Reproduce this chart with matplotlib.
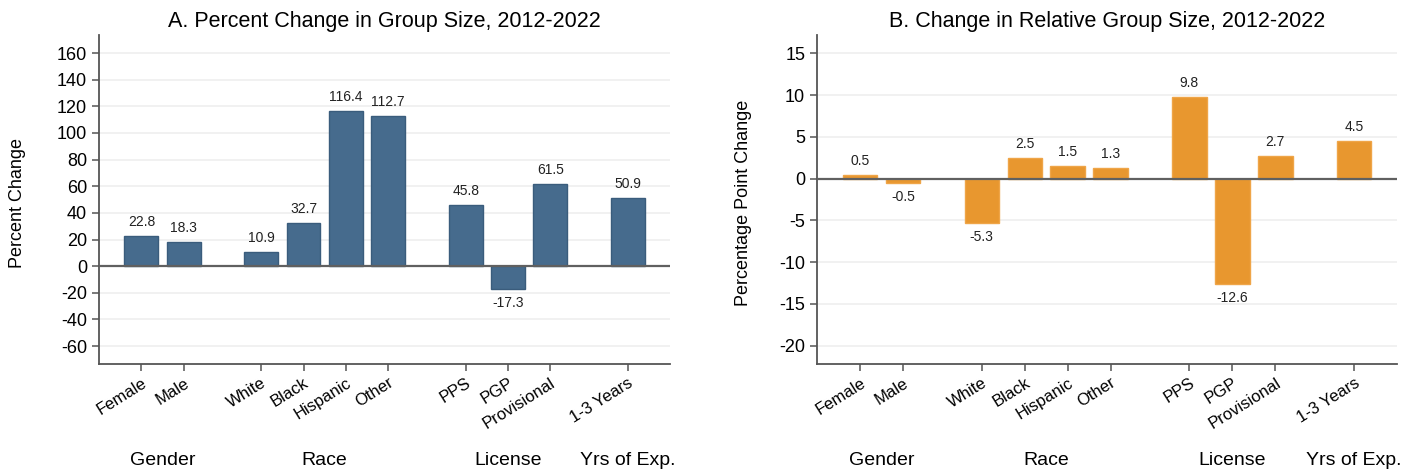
import numpy as np
import matplotlib
matplotlib.use("Agg")
import matplotlib.pyplot as plt
import matplotlib.transforms as mtransforms

plt.rcParams['font.family'] = ['Liberation Sans', 'DejaVu Sans']

categories = ['Female', 'Male', 'White', 'Black', 'Hispanic', 'Other',
              'PPS', 'PGP', 'Provisional', '1-3 Years']
groups = ['Gender', 'Race', 'License', 'Yrs of Exp.']
group_sizes = [2, 4, 3, 1]

pct_change = [22.8, 18.3, 10.9, 32.7, 116.4, 112.7, 45.8, -17.3, 61.5, 50.9]
pp_change = [0.5, -0.5, -5.3, 2.5, 1.5, 1.3, 9.8, -12.6, 2.7, 4.5]

# bar positions: unit spacing inside a group, wider step between groups
GROUP_STEP = 1.83
xpos = []
group_centers = []
x = 0.0
for gi, n in enumerate(group_sizes):
    if gi > 0:
        x += GROUP_STEP - 1
    members = []
    for _ in range(n):
        members.append(x)
        x += 1
    xpos.extend(members)
    group_centers.append(np.mean(members))
xpos = np.array(xpos)


def draw_panel(ax, values, color, edge, title, ylabel, yticks, ylim, label_x):
    for yt in yticks:
        ax.axhline(yt, color='#efefef', lw=1.2, zorder=0)
    ax.bar(xpos, values, width=0.8, color=color, edgecolor=edge, lw=1.0, zorder=2)
    ax.axhline(0, color='#606060', lw=1.6, zorder=3)

    for xi, v in zip(xpos, values):
        if v >= 0:
            ax.annotate(f'{v:.1f}', (xi, v), xytext=(0, 5), textcoords='offset points',
                        ha='center', va='bottom', fontsize=10, color='#222222')
        else:
            ax.annotate(f'{v:.1f}', (xi, v), xytext=(0, -5), textcoords='offset points',
                        ha='center', va='top', fontsize=10, color='#222222')

    ax.set_xlim(xpos[0] - 1, xpos[-1] + 1)
    ax.set_ylim(*ylim)
    ax.set_yticks(yticks)
    ax.set_yticklabels([str(t) for t in yticks], fontsize=13)
    ax.set_xticks(xpos)
    ax.set_xticklabels(categories, rotation=32, ha='right', rotation_mode='anchor',
                       fontsize=12)
    ax.tick_params(axis='both', direction='out', length=5, width=1.1, color='#555555')
    ax.tick_params(axis='x', pad=3)
    for side in ['top', 'right']:
        ax.spines[side].set_visible(False)
    for side in ['left', 'bottom']:
        ax.spines[side].set_color('#555555')
        ax.spines[side].set_linewidth(1.3)
    ax.set_title(title, fontsize=15.5, pad=6)
    ax.set_ylabel(ylabel, fontsize=13)
    ax.yaxis.set_label_coords(label_x, 0.49)

    trans = mtransforms.blended_transform_factory(ax.transData, ax.transAxes)
    for gx, name in zip(group_centers, groups):
        ax.text(gx, -0.292, name, transform=trans, ha='center', va='center', fontsize=14)


fig = plt.figure(figsize=(14.17, 4.74), dpi=100)
ax1 = fig.add_axes([0.0699, 0.232, 0.403, 0.694])
ax2 = fig.add_axes([0.5766, 0.232, 0.4093, 0.694])

draw_panel(ax1, pct_change, '#466b8d', '#3a5c7c',
           'A. Percent Change in Group Size, 2012-2022', 'Percent Change',
           list(range(-60, 161, 20)), (-73.5, 173.5), -0.128)
draw_panel(ax2, pp_change, '#e8972f', '#efa548',
           'B. Change in Relative Group Size, 2012-2022', 'Percentage Point Change',
           list(range(-20, 16, 5)), (-22.2, 17.2), -0.112)

fig.savefig('out.png', dpi=100, facecolor='white')
